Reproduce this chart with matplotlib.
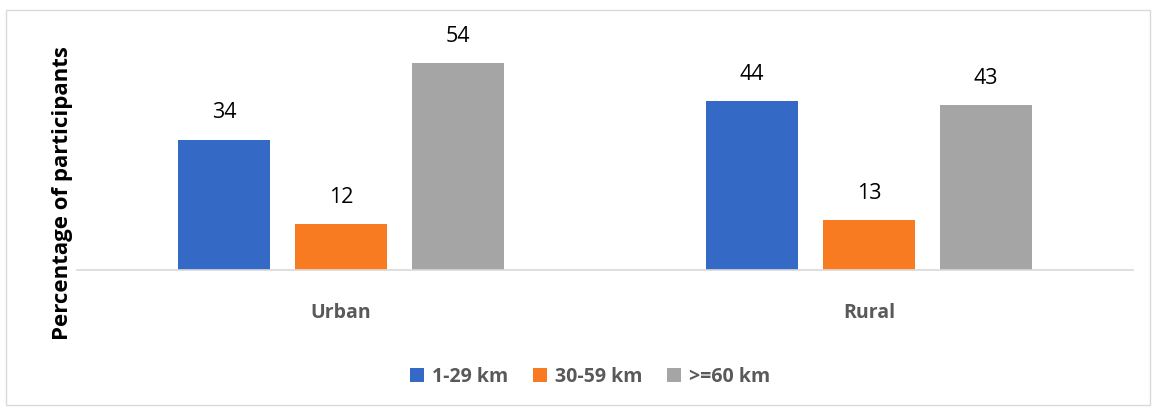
import numpy as np
import matplotlib.pyplot as plt
from matplotlib.patches import Rectangle

plt.rcParams['font.family'] = ['Open Sans', 'DejaVu Sans']

categories = ['Urban', 'Rural']
series = ['1-29 km', '30-59 km', '>=60 km']
values = [[34, 44], [12, 13], [54, 43]]
colors = ['#3469C6', '#F87B22', '#A5A5A5']

fig = plt.figure(figsize=(11.58, 4.09), dpi=100)
ax = fig.add_axes([77 / 1158, 1 - 270 / 409, 1056 / 1158, 230 / 409])

x = np.arange(len(categories))
step = 0.2216
width = 0.174
for i, (name, vals) in enumerate(zip(series, values)):
    pos = x + (i - 1) * step
    bars = ax.bar(pos, vals, width, color=colors[i], label=name)
    for b, v in zip(bars, vals):
        ax.text(b.get_x() + b.get_width() / 2, v + 7.0, str(v),
                ha='center', va='center', fontsize=15.5, color='#000000')

ax.set_xlim(-0.5, 1.5)
ax.set_ylim(0, 60)
ax.set_yticks([])
ax.set_xticks(x)
ax.set_xticklabels(categories, fontsize=14, fontweight='bold', color='#595959')
ax.tick_params(axis='x', length=0, pad=24)
for s in ['top', 'right', 'left']:
    ax.spines[s].set_visible(False)
ax.spines['bottom'].set_color('#D9D9D9')
ax.spines['bottom'].set_linewidth(1.2)

fig.text(63 / 1158, 1 - 193 / 409, 'Percentage of participants', rotation=90,
         ha='center', va='center', fontsize=16, fontweight='bold', color='#000000')

fig.legend(loc='center', bbox_to_anchor=(590 / 1158, 1 - 377 / 409), ncol=3,
           frameon=False, handlelength=0.7, handleheight=0.7,
           columnspacing=1.3, handletextpad=0.4,
           prop={'weight': 'bold', 'size': 14})
for t in fig.legends[0].get_texts():
    t.set_color('#595959')

fig.patches.append(Rectangle((6 / 1158, 4 / 409), 1144 / 1158, 395 / 409,
                             transform=fig.transFigure, fill=False,
                             edgecolor='#D9D9D9', linewidth=1))

fig.savefig('out.png', dpi=100)
